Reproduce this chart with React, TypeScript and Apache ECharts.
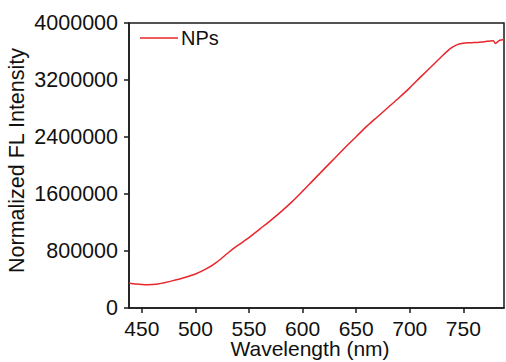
import React, { useEffect, useRef } from "react";
import * as echarts from "echarts";

const seriesName = "NPs";
const xAxisTitle = "Wavelength (nm)";
const yAxisTitle = "Normalized FL Intensity";
const xTicks = [450, 500, 550, 600, 650, 700, 750];
const yTicks = [0, 800000, 1600000, 2400000, 3200000, 4000000];

const wavelengths = [
  438, 440, 445, 450, 455, 460, 465, 470, 480, 490, 500, 510, 520, 530, 535,
  540, 545, 550, 560, 570, 580, 590, 600, 610, 620, 630, 640, 650, 660, 670,
  680, 690, 700, 710, 720, 730, 737, 740, 745, 750, 755, 760, 765, 770, 775,
  778, 780, 782, 784, 788,
];
const intensities = [
  348000, 345000, 336000, 330000, 327000, 329000, 336000, 352000, 388000,
  428000, 478000, 548000, 645000, 768000, 830000, 882000, 935000, 988000,
  1108000, 1227000, 1353000, 1490000, 1640000, 1795000, 1949000, 2103000,
  2257000, 2404000, 2552000, 2685000, 2818000, 2951000, 3090000, 3240000,
  3386000, 3533000, 3630000, 3662000, 3700000, 3716000, 3722000, 3725000,
  3730000, 3738000, 3748000, 3750000, 3712000, 3735000, 3757000, 3770000,
];

const FONT = "Liberation Sans";

export default function App() {
  const ref = useRef<HTMLDivElement>(null);
  useEffect(() => {
    if (!ref.current) return;
    const chart = echarts.init(ref.current, undefined, { renderer: "svg" });
    const data = wavelengths.map((w, i) => [w, intensities[i]]);
    chart.setOption({
      animation: false,
      backgroundColor: "#ffffff",
      textStyle: { fontFamily: FONT },
      grid: {
        left: 129,
        top: 23,
        right: 2,
        bottom: 54,
        containLabel: false,
        outerBoundsMode: "none",
        show: true,
        borderColor: "#1a1a1a",
        borderWidth: 1.5,
        backgroundColor: "transparent",
      },
      legend: {
        left: 140,
        top: 28,
        padding: 0,
        itemWidth: 38,
        itemHeight: 1.5,
        itemGap: 10,
        icon: "rect",
        textStyle: { fontFamily: FONT, fontSize: 20, color: "#111", padding: [0, 0, 0, -2] },
        data: [{ name: seriesName }],
      },
      xAxis: {
        type: "value",
        min: 438,
        max: 788,
        name: xAxisTitle,
        nameLocation: "middle",
        nameGap: 32,
        nameMoveOverlap: false,
        nameTextStyle: {
          fontFamily: FONT,
          fontSize: 21,
          lineHeight: 17,
          color: "#111",
          padding: [0, 13, 0, 0],
          verticalAlign: "top",
        },
        axisLine: { show: true, lineStyle: { color: "#1a1a1a", width: 1.5 } },
        axisTick: { show: true, inside: false, length: 5, customValues: xTicks, lineStyle: { color: "#1a1a1a", width: 1.5 } },
        axisLabel: { customValues: xTicks, fontFamily: FONT, fontSize: 21, lineHeight: 17, color: "#111", margin: 12 },
        splitLine: { show: false },
      },
      yAxis: {
        type: "value",
        min: 0,
        max: 4000000,
        interval: 800000,
        name: yAxisTitle,
        nameLocation: "middle",
        nameGap: 101,
        nameMoveOverlap: false,
        nameRotate: 90,
        nameTextStyle: { fontFamily: FONT, fontSize: 21.5, color: "#111", padding: [0, 0, 0, 10] },
        axisLine: { show: true, lineStyle: { color: "#1a1a1a", width: 1.5 } },
        axisTick: { show: true, inside: false, length: 5, lineStyle: { color: "#1a1a1a", width: 1.5 } },
        axisLabel: {
          fontFamily: FONT,
          fontSize: 21.5,
          color: "#111",
          margin: 11,
          formatter: (v: number) => String(v),
          customValues: yTicks,
        },
        splitLine: { show: false },
      },
      series: [
        {
          name: seriesName,
          type: "line",
          data,
          symbol: "none",
          smooth: 0.3,
          lineStyle: { color: "#e8262b", width: 1.5 },
          itemStyle: { color: "#e8262b" },
        },
      ],
    });
    return () => chart.dispose();
  }, []);
  return <div ref={ref} style={{ width: 506, height: 362, position: "absolute", left: 0, top: 0 }} />;
}
